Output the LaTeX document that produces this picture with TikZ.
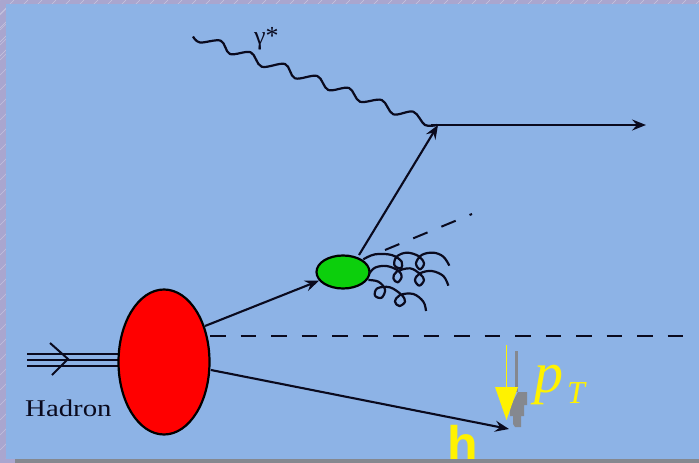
\documentclass[tikz,border=0pt]{standalone}
\usepackage{fontspec}
\setmainfont{Liberation Serif}
\newfontfamily\hfont{Liberation Sans}
\usetikzlibrary{arrows.meta,shapes.geometric}
\definecolor{lilac}{HTML}{A9A6CF}
\definecolor{panelblue}{HTML}{8DB3E6}
\definecolor{ink}{HTML}{0A0A1E}
\definecolor{barbg}{HTML}{85888F}
\definecolor{blobred}{HTML}{FF0000}
\definecolor{blobgreen}{HTML}{0CCF0C}
\tikzset{
  line/.style={draw=ink,line width=2.1pt},
  arrowline/.style={line,-{Stealth[length=14pt,width=11pt,inset=5pt]}},
  dashline/.style={draw=ink,line width=2pt,dash pattern=on 15.5pt off 15pt},
  curly/.style={draw=ink,line width=2.2pt,line join=round},
  blob/.style={ellipse,draw=black,line width=2.2pt,inner sep=0pt,minimum width=#1},
}
\begin{document}
\begin{tikzpicture}[x=1pt,y=-1pt]
\useasboundingbox (0,0) rectangle (699,463);
\fill[lilac] (0,0) rectangle (699,463);
\begin{scope}
\clip (0,0) rectangle (699,463);
\foreach \k in {0,...,60}{
  \draw[white,opacity=.35,line width=.6pt] ({\k*14},0) -- ({\k*14-60},60);
  \draw[white,opacity=.3,line width=.6pt] (0,{\k*15}) -- (7,{\k*15-7});
}
\end{scope}
\fill[panelblue] (6,4) rectangle (699,459);

% triple hadron line
\coordinate (t1) at (27,354); \coordinate (t2) at (27,360); \coordinate (t3) at (27,366);
\coordinate (e1) at (125,354); \coordinate (e2) at (125,360); \coordinate (e3) at (125,366);
\draw[draw=ink,line width=1.7pt] (t1)--(e1) (t2)--(e2) (t3)--(e3);
\coordinate (c1) at (50,343); \coordinate (c2) at (68,359); \coordinate (c3) at (52,375);
\draw[draw=ink,line width=2pt] (c1)--(c2)--(c3);

\node[blob=91pt,minimum height=145pt,fill=blobred] (hadron) at (164,362) {};
\node[blob=53pt,minimum height=33pt,fill=blobgreen] (parton) at (343,272) {};

\node[anchor=base west,text=ink,inner sep=0pt,xscale=1.2,transform shape,font=\fontsize{24}{24}\selectfont] (hlabel) at (25,416) {Hadron};
\node[anchor=base west,font=\fontsize{26}{26}\selectfont,text=ink,inner sep=0pt] (glabel) at (254,44) {γ*};

\coordinate (vertex) at (438,125);
\coordinate (out) at (646,125);
\coordinate (hend) at (509,429);
\coordinate (ds) at (385,250);
\coordinate (de) at (472,214);
\coordinate (hs) at (210,336);
\coordinate (he) at (686,336);

\draw[arrowline] (205,326) -- (parton.200);
\draw[arrowline] (359,255) -- (vertex);
\draw[arrowline] (431,125) -- (out);
\draw[arrowline] (211,370) -- (hend);
\draw[dashline] (hs) -- (he);
\draw[dashline] (ds) -- (de);

% virtual photon
\draw[curly,line width=2.2pt] plot[smooth,tension=.55] coordinates {
 (193,36.5) (200,42.5) (220.7,40.7) (230,54) (250.7,52.3) (261.7,66.7) (285,64) (295,78.3)
 (317.3,76) (328.3,90) (349,88) (360,101.7) (381.7,100) (393.3,114.3) (413.3,111.7) (425,125) (437,125)};

% gluons
\begin{scope}[shift={(300,200)},x=1pt/3,y=-1pt/3]
\draw[curly] plot[smooth,tension=.6] coordinates {(190,178) (225,163) (275,165) (305,185) (302,205) (283,195) (290,170) (320,158) (355,168) (372,190) (360,208) (348,190) (365,165) (400,158) (430,170) (448,197)};
\draw[curly] plot[smooth,tension=.6] coordinates {(207,222) (225,203) (260,198) (295,212) (305,230) (293,247) (280,235) (290,215) (330,205) (360,222) (372,240) (358,257) (345,240) (360,220) (395,213) (430,228) (445,257)};
\draw[curly] plot[smooth,tension=.6] coordinates {(205,240) (235,245) (255,268) (245,293) (225,287) (232,265) (270,262) (305,285) (315,305) (298,318) (285,305) (300,285) (340,282) (370,305) (378,333)};
\end{scope}

% pT marker with shadow
\fill[barbg] (515,351) rectangle (518,392);
\fill[barbg] (518,392) -- (527,392) -- (527,405) -- (524,405) -- (524,416) -- (521,416) -- (521,427) -- (515,427) -- (513,424) -- (513,416) -- (510,416) -- (510,407) -- cycle;
\coordinate (ys) at (506.5,345);
\coordinate (ye) at (506.5,420);
\draw[yellow,line width=1pt] (ys) -- (506.5,388);
\fill[yellow] (495,387) -- (518,387) -- (ye) -- cycle;

\node[anchor=base west,font=\itshape\fontsize{58}{58}\selectfont,text=yellow,inner sep=0pt] (plabel) at (534,392) {p};
\node[anchor=base west,font=\itshape\fontsize{32}{32}\selectfont,text=yellow,inner sep=0pt] (tlabel) at (567,403) {T};
\node[anchor=base west,font=\hfont\bfseries\fontsize{50}{50}\selectfont,text=yellow,inner sep=0pt] (hh) at (447,461) {h};

% lower frame bar over the clipped letter
\fill[barbg] (15,459) rectangle (699,463);
\fill[lilac] (0,459) rectangle (15,463);
\end{tikzpicture}
\end{document}
